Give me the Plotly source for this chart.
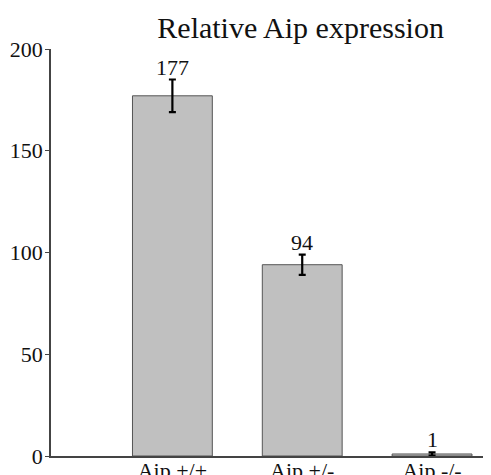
import plotly.graph_objects as go

categories = ["Aip +/+", "Aip +/-", "Aip -/-"]
values = [177, 94, 1]
errors = [8, 5, 0.8]
labels = ["177", "94", "1"]
y_ticks = [0, 50, 100, 150, 200]

font_family = "Liberation Serif, Times New Roman, serif"

fig = go.Figure()
fig.add_trace(go.Bar(
    x=categories, y=values, width=0.615,
    marker=dict(color="#c0c0c0", line=dict(color="#555555", width=1)),
    error_y=dict(type="data", array=errors, color="black", thickness=2.2, width=3.5),
    showlegend=False, hoverinfo="skip",
))

for c, v, e, t in zip(categories, values, errors, labels):
    fig.add_annotation(x=c, y=v + e, text=t, showarrow=False, yanchor="bottom",
                       yshift=-2, font=dict(family=font_family, size=22, color="#111"))

fig.update_layout(
    width=491, height=475,
    margin=dict(l=43, r=8, t=41, b=27),
    paper_bgcolor="white", plot_bgcolor="white",
    title=dict(text="Relative Aip expression", x=0.596, xanchor="center", y=0.958, yanchor="middle",
               font=dict(family=font_family, size=30, color="#111")),
    font=dict(family=font_family, size=22, color="#111"),
)
fig.update_xaxes(range=[-0.935, 2.454], showline=True, linecolor="#444", linewidth=1.5,
                 ticks="", showgrid=False, tickfont=dict(size=22), automargin=False,
                 ticklabelstandoff=-6)
fig.update_yaxes(range=[0, 200], tickvals=y_ticks, showline=True, linecolor="#444", linewidth=1.5,
                 ticks="outside", ticklen=4, tickcolor="#444", showgrid=False, zeroline=False,
                 tickfont=dict(size=22), automargin=False, ticklabelstandoff=-2)

fig.write_html("out.html")
